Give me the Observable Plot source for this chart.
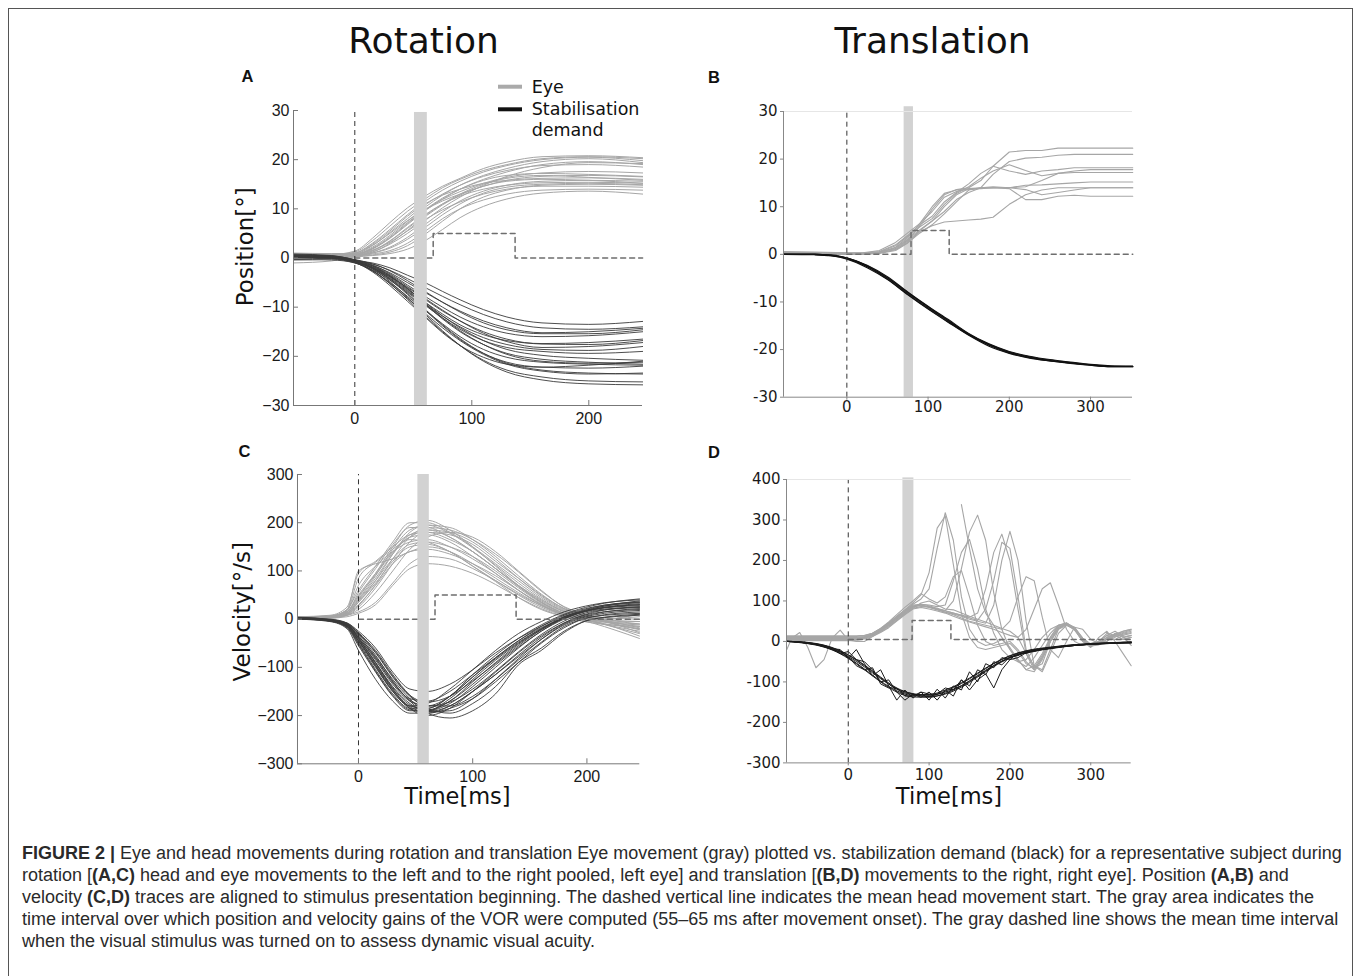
<!DOCTYPE html>
<html>
<head>
<meta charset="utf-8">
<script src="https://cdn.jsdelivr.net/npm/d3@7"></script>
<script src="https://cdn.jsdelivr.net/npm/@observablehq/plot@0.6"></script>
<style>
  body { margin: 0; background: #fff; }
  #page { position: relative; width: 1358px; height: 976px; overflow: hidden; background: #fff; }
  #frame { position: absolute; left: 8px; top: 8px; width: 1345px; height: 1000px; border: 1.5px solid #555; box-sizing: border-box; }
  #caption { position: absolute; left: 22px; top: 842px; font-family: "Liberation Sans", Arial, sans-serif; font-size: 18px; line-height: 22px; color: #2a2a2a; white-space: nowrap; }
  #overlay { position: absolute; left: 0; top: 0; pointer-events: none; }
</style>
</head>
<body>
<div id="page">
  <div id="frame"></div>
  <div id="panels"></div>
  <svg id="overlay" width="1358" height="976">
    <text x="423.5" y="53" font-family="DejaVu Sans" font-size="36" text-anchor="middle" fill="#111">Rotation</text>
    <text x="932.5" y="53" font-family="DejaVu Sans" font-size="36" text-anchor="middle" fill="#111">Translation</text>
    <text x="241.5" y="81.7" font-family="Liberation Sans" font-weight="bold" font-size="16.5" fill="#111">A</text>
    <text x="708" y="82.5" font-family="Liberation Sans" font-weight="bold" font-size="16.5" fill="#111">B</text>
    <text x="238.5" y="456.7" font-family="Liberation Sans" font-weight="bold" font-size="16.5" fill="#111">C</text>
    <text x="708" y="458" font-family="Liberation Sans" font-weight="bold" font-size="16.5" fill="#111">D</text>
    <text transform="translate(253,246.7) rotate(-90)" text-anchor="middle" font-family="DejaVu Sans" font-size="23" fill="#111">Position[°]</text>
    <text transform="translate(250,611.7) rotate(-90)" text-anchor="middle" font-family="DejaVu Sans" font-size="23" fill="#111">Velocity[°/s]</text>
    <text x="457.5" y="803.5" text-anchor="middle" font-family="DejaVu Sans" font-size="22.5" fill="#111">Time[ms]</text>
    <text x="949" y="803.5" text-anchor="middle" font-family="DejaVu Sans" font-size="22.5" fill="#111">Time[ms]</text>
    <line x1="498" x2="522" y1="86.7" y2="86.7" stroke="#aaa" stroke-width="4"/>
    <line x1="498" x2="522" y1="109.3" y2="109.3" stroke="#111" stroke-width="4"/>
    <text x="531.7" y="93.3" font-family="DejaVu Sans" font-size="17.5" fill="#111">Eye</text>
    <text x="531.7" y="115" font-family="DejaVu Sans" font-size="17.5" fill="#111">Stabilisation</text>
    <text x="531.7" y="136" font-family="DejaVu Sans" font-size="17.5" fill="#111">demand</text>
  </svg>
  <div id="caption">
    <div><b>FIGURE 2 |</b> Eye and head movements during rotation and translation Eye movement (gray) plotted vs. stabilization demand (black) for a representative subject during</div>
    <div>rotation [<b>(A,C)</b> head and eye movements to the left and to the right pooled, left eye] and translation [<b>(B,D)</b> movements to the right, right eye]. Position <b>(A,B)</b> and</div>
    <div>velocity <b>(C,D)</b> traces are aligned to stimulus presentation beginning. The dashed vertical line indicates the mean head movement start. The gray area indicates the</div>
    <div>time interval over which position and velocity gains of the VOR were computed (55–65 ms after movement onset). The gray dashed line shows the mean time interval</div>
    <div>when the visual stimulus was turned on to assess dynamic visual acuity.</div>
  </div>
</div>
<script>
// ---------------- DATA ----------------
// Panel A: rotation, position (deg)
const tA = [-52,-20,0,15,30,45,60,75,90,110,130,160,200,246];
const posRotEye = [
  [0.5,0.6,1.2,3.5,6.5,9.5,12.0,14.3,16.0,17.8,19.0,20.2,20.6,20.2],
  [0.3,0.5,1.0,3.0,5.8,8.8,11.5,13.8,15.6,17.5,18.8,20.0,20.5,19.8],
  [0.8,0.8,0.8,2.2,4.6,7.5,10.3,12.8,14.8,16.8,18.2,19.6,20.2,19.4],
  [0.0,0.3,0.6,1.8,4.0,6.8,9.6,12.0,14.0,16.0,17.5,19.0,19.6,19.0],
  [1.0,0.9,0.9,2.5,5.2,8.0,10.8,13.0,14.8,16.6,17.8,18.8,19.0,18.5],
  [0.5,0.5,0.7,2.0,4.3,7.2,9.8,11.9,13.5,15.2,16.4,17.3,17.6,17.3],
  [0.2,0.4,0.5,1.2,3.0,5.6,8.4,10.8,12.8,14.6,15.8,16.6,16.8,16.5],
  [0.6,0.7,1.0,2.8,5.5,8.5,11.0,12.8,14.0,15.2,15.8,16.2,16.3,16.0],
  [-0.5,-0.2,0.3,1.0,2.2,4.2,6.8,9.4,11.6,13.6,14.8,15.6,15.8,15.6],
  [0.4,0.5,0.6,1.5,3.5,6.2,8.8,11.0,12.6,14.0,14.8,15.3,15.4,15.2],
  [-1.0,-0.6,0.2,0.6,1.2,2.5,4.8,7.5,10.0,12.4,13.8,14.8,15.0,14.8],
  [0.7,0.6,0.8,1.6,3.2,5.5,7.8,9.8,11.4,13.0,14.0,14.6,14.6,14.4],
  [0.2,0.3,0.4,0.8,1.5,3.0,5.4,8.0,10.0,11.8,13.0,13.8,14.0,13.8],
  [0.0,0.2,0.3,0.5,0.9,1.8,3.5,5.8,8.2,10.5,12.0,13.2,13.6,13.0],
  [0.6,0.7,1.4,4.0,7.2,10.2,12.6,14.6,16.2,18.2,19.5,20.6,20.8,20.4],
  [0.1,0.3,0.6,1.4,3.4,6.0,8.6,11.0,13.0,15.0,16.2,16.8,16.4,15.8],
  [0.9,0.8,1.0,2.6,5.0,7.6,9.8,11.6,13.0,14.6,15.6,16.0,15.8,15.2],
  [-0.3,0.0,0.4,1.2,2.8,5.0,7.6,10.2,12.4,14.8,16.6,18.4,19.4,19.2],
  [0.4,0.5,0.7,1.9,4.1,7.0,9.8,12.2,14.0,15.8,16.8,17.2,17.0,16.6],
  [0.2,0.3,0.5,1.0,2.0,3.8,6.2,8.8,11.0,13.2,14.4,15.0,15.2,14.9]
];
const posRotDemand = [
  [0.5,0.3,-0.5,-1.0,-2.0,-3.5,-5.0,-6.8,-8.5,-10.5,-12.0,-13.2,-13.5,-12.9],
  [0.6,0.4,-0.3,-1.2,-2.5,-4.2,-6.0,-7.8,-9.5,-11.5,-13.0,-14.2,-14.5,-14.0],
  [0.3,0.2,-0.6,-1.5,-3.0,-5.0,-7.0,-9.0,-10.8,-12.8,-14.2,-15.2,-15.0,-14.3],
  [0.8,0.5,-0.4,-1.4,-3.2,-5.5,-7.8,-10.0,-12.0,-14.0,-15.3,-16.0,-15.8,-15.0],
  [0.2,0.0,-0.8,-2.0,-3.8,-6.0,-8.4,-10.8,-12.8,-15.0,-16.5,-17.5,-17.6,-16.8],
  [0.5,0.3,-0.5,-1.6,-3.4,-5.8,-8.2,-10.6,-12.8,-15.3,-17.0,-18.2,-18.0,-17.2],
  [0.4,0.2,-0.7,-2.2,-4.2,-6.8,-9.4,-11.8,-14.0,-16.2,-17.6,-18.6,-18.8,-18.0],
  [0.0,-0.2,-1.0,-2.4,-4.5,-7.0,-9.6,-12.2,-14.5,-16.8,-18.2,-19.0,-19.4,-19.0],
  [0.6,0.4,-0.6,-1.8,-3.6,-6.2,-9.0,-11.8,-14.2,-16.8,-18.6,-19.8,-20.4,-20.8],
  [0.3,0.1,-0.8,-2.0,-4.0,-6.6,-9.4,-12.4,-15.0,-17.6,-19.4,-20.6,-21.2,-21.6],
  [-0.3,-0.4,-1.0,-2.6,-5.0,-7.8,-10.6,-13.4,-16.0,-18.6,-20.2,-21.2,-21.6,-21.8],
  [0.4,0.2,-0.6,-2.0,-4.2,-7.2,-10.4,-13.6,-16.4,-19.4,-21.4,-22.8,-23.4,-23.6],
  [0.2,0.0,-0.9,-2.5,-5.2,-8.4,-11.8,-15.0,-17.8,-20.8,-22.8,-24.2,-25.0,-25.2],
  [0.5,0.3,-0.7,-2.2,-4.8,-8.0,-11.4,-14.8,-17.8,-21.0,-23.2,-24.8,-25.6,-25.8],
  [0.4,0.2,-0.6,-1.8,-3.8,-6.4,-9.0,-11.4,-13.6,-15.6,-16.8,-17.4,-17.2,-16.5],
  [0.6,0.4,-0.4,-1.6,-3.6,-6.2,-9.2,-12.2,-14.8,-17.6,-19.6,-21.0,-21.4,-21.2],
  [0.2,0.0,-0.8,-2.6,-5.2,-8.2,-11.2,-14.2,-16.8,-19.6,-21.6,-23.0,-23.6,-23.4],
  [0.5,0.3,-0.5,-1.2,-2.6,-4.6,-6.8,-9.0,-11.0,-13.2,-14.6,-15.4,-15.4,-14.6],
  [0.3,0.1,-0.7,-2.0,-4.4,-7.4,-10.6,-13.8,-16.6,-19.4,-21.2,-22.2,-22.4,-22.0],
  [0.1,-0.1,-0.9,-2.8,-5.6,-8.8,-12.0,-15.2,-17.8,-20.2,-21.6,-22.2,-21.8,-21.0]
];

// Panel B: translation, position (deg)
const tB = [-78,-40,0,20,40,60,75,90,105,120,135,150,165,180,200,220,240,260,280,300,325,352];
const posTransEye = [
  [0.5,0.5,0.3,0.3,0.5,1.2,3.0,6.0,9.5,12.5,13.6,14.0,15.5,18.5,21.5,21.8,21.8,22.3,22.3,22.3,22.3,22.3],
  [0.3,0.3,0.2,0.2,0.4,1.5,3.5,6.5,10.0,12.8,13.5,13.6,14.0,16.8,19.5,20.2,20.4,20.8,21.0,21.0,21.0,21.0],
  [0.0,0.0,0.0,0.2,0.6,2.0,4.0,6.2,8.0,11.0,13.0,14.8,17.0,18.5,17.5,16.8,17.5,17.8,18.2,18.2,18.2,18.2],
  [0.6,0.4,0.2,0.3,0.8,2.5,4.5,6.5,9.0,12.0,13.2,13.8,13.8,14.0,14.0,14.2,15.5,17.0,17.5,17.8,17.8,17.8],
  [0.2,0.2,0.1,0.2,0.5,1.8,3.8,5.8,7.5,10.5,12.8,14.2,16.0,17.5,18.8,17.6,16.5,17.0,17.2,17.2,17.2,17.2],
  [0.0,0.0,0.0,0.1,0.3,1.0,2.8,5.0,7.0,9.0,11.5,13.0,14.0,14.2,14.0,14.5,14.6,14.8,15.0,15.2,15.2,15.2],
  [0.4,0.3,0.2,0.2,0.4,1.4,3.2,5.2,7.0,10.0,12.5,13.8,14.0,14.0,14.0,13.6,12.5,13.0,13.5,14.0,14.0,14.0],
  [0.1,0.1,0.0,0.0,0.2,0.8,2.4,4.5,6.2,8.5,11.0,13.5,13.9,14.0,13.8,11.5,11.5,12.2,12.4,12.2,12.2,12.2],
  [0.0,0.0,0.0,0.1,0.3,1.0,2.5,4.8,6.0,6.8,7.0,7.2,7.4,7.8,10.5,12.5,13.5,14.0,14.0,14.0,14.0,14.0]
];
const tBd = [-78,-40,-20,0,25,50,75,100,125,150,175,200,225,250,275,300,325,352];
const posTransDemand = [
  [0,0,-0.2,-0.8,-2.5,-5.0,-8.2,-11.2,-14.0,-16.8,-19.0,-20.6,-21.6,-22.3,-22.8,-23.2,-23.5,-23.5],
  [0,0,-0.3,-1.0,-2.8,-5.3,-8.5,-11.5,-14.3,-17.0,-19.3,-20.8,-21.8,-22.4,-22.9,-23.3,-23.6,-23.6],
  [0,0,-0.1,-0.7,-2.3,-4.7,-7.9,-10.9,-13.7,-16.6,-18.8,-20.4,-21.4,-22.1,-22.6,-23.1,-23.4,-23.5],
  [0,-0.1,-0.3,-0.9,-2.6,-5.2,-8.4,-11.4,-14.2,-16.9,-19.1,-20.7,-21.7,-22.4,-22.8,-23.3,-23.6,-23.6],
  [0,0,-0.2,-0.8,-2.4,-4.9,-8.0,-11.0,-13.9,-16.7,-18.9,-20.5,-21.5,-22.2,-22.7,-23.2,-23.5,-23.5]
];

// Panel C: rotation, velocity (deg/s)
const tC = [-53,-25,-10,0,15,30,45,60,80,100,120,140,160,180,205,246];
const velRotEye = [
  [2,5,15,45,95,150,195,205,185,150,110,70,38,15,0,-15],
  [3,6,20,60,110,160,200,200,180,150,115,80,45,18,0,-10],
  [0,3,10,35,80,135,180,195,190,165,130,90,52,22,2,-20],
  [5,8,25,95,120,150,175,180,165,140,105,68,35,12,-5,-25],
  [2,4,12,40,85,135,170,175,160,130,95,60,30,10,-5,-30],
  [1,3,8,25,65,115,160,180,175,155,120,85,50,22,5,-10],
  [4,7,18,70,110,140,160,165,150,125,95,60,30,10,-3,-35],
  [0,2,8,20,55,100,145,170,180,170,140,100,60,25,5,0],
  [3,6,20,100,115,125,140,150,140,115,85,55,28,8,-8,-40],
  [2,5,15,50,95,140,165,160,140,110,80,50,25,8,-5,-20],
  [1,3,10,30,70,115,140,145,135,115,90,60,32,12,0,5],
  [3,5,12,35,75,120,150,155,140,110,78,45,20,5,-8,-15],
  [2,4,8,15,35,75,115,130,125,105,80,52,28,10,-2,10],
  [0,2,5,12,30,70,105,115,110,95,72,45,22,6,-6,-5],
  [1,4,14,55,105,155,190,190,170,140,105,70,40,16,2,-5],
  [2,5,18,85,118,145,170,185,180,160,125,85,48,20,4,-18],
  [0,2,9,28,72,125,170,190,185,165,135,98,58,26,6,-28],
  [3,6,16,48,92,138,175,185,170,140,105,68,36,12,-4,12],
  [1,3,11,38,80,125,155,160,150,130,100,65,34,12,-2,-12],
  [2,4,13,42,90,145,185,195,178,148,112,75,42,16,0,-22]
];
const velRotDemand = [
  [3,0,-8,-25,-60,-110,-145,-150,-135,-105,-70,-40,-15,5,20,30],
  [2,-2,-12,-35,-80,-130,-165,-170,-150,-115,-80,-45,-18,2,18,25],
  [0,-3,-15,-45,-95,-145,-180,-185,-160,-120,-80,-45,-15,8,25,35],
  [4,-1,-10,-40,-90,-140,-175,-190,-175,-140,-100,-60,-25,0,20,28],
  [2,-4,-18,-55,-110,-160,-190,-190,-165,-125,-85,-50,-20,5,22,38],
  [1,-2,-12,-40,-90,-145,-185,-200,-185,-150,-110,-70,-35,-8,12,20],
  [3,-3,-16,-50,-105,-155,-185,-185,-160,-115,-75,-40,-12,10,28,42],
  [0,-5,-20,-65,-125,-170,-195,-195,-180,-150,-115,-78,-42,-12,8,18],
  [2,-2,-10,-30,-70,-120,-160,-180,-180,-160,-125,-85,-48,-15,5,15],
  [1,-4,-15,-48,-100,-150,-180,-175,-145,-105,-65,-30,-5,15,30,40],
  [3,-1,-8,-28,-65,-115,-158,-185,-195,-175,-140,-90,-60,-25,0,10],
  [0,-3,-14,-45,-98,-150,-185,-195,-185,-165,-130,-90,-50,-18,5,12],
  [2,-3,-12,-38,-85,-135,-170,-180,-160,-120,-82,-48,-20,2,20,30],
  [1,-2,-11,-35,-78,-125,-165,-195,-205,-190,-155,-95,-65,-28,0,8],
  [2,-3,-13,-42,-92,-142,-178,-188,-170,-130,-90,-52,-22,2,22,34],
  [1,-2,-10,-32,-75,-128,-170,-192,-190,-165,-125,-82,-42,-10,10,22],
  [3,-4,-17,-52,-108,-158,-188,-190,-170,-135,-95,-58,-25,2,20,32],
  [0,-1,-9,-30,-68,-118,-158,-172,-160,-128,-92,-55,-22,4,24,36],
  [2,-3,-14,-44,-96,-148,-182,-192,-180,-150,-115,-75,-38,-8,14,26],
  [1,-2,-12,-38,-82,-132,-168,-180,-172,-145,-108,-68,-32,-4,16,24]
];

// Panel D: translation, velocity (deg/s)
const tD = [-76,-70,-60,-50,-40,-30,-20,-10,0,10,20,30,40,50,60,70,80,90,100,110,120,130,140,150,160,170,180,190,200,210,220,230,240,250,260,270,280,290,300,310,320,330,340,350];
const velTransEye = [
  [12,12,12,12,12,12,12,12,12,12,14,20,30,45,62,78,95,115,170,280,310,190,70,10,-15,-20,-15,-10,-5,-25,-55,-65,-35,5,35,42,30,5,-8,0,15,10,20,25],
  [5,5,5,5,5,5,5,5,5,6,10,16,28,42,58,75,92,105,130,230,318,250,110,30,0,-10,-5,5,-15,-45,-70,-75,-45,0,32,44,35,8,-10,-5,10,15,5,10],
  [null,null,null,null,null,null,null,null,null,null,null,null,null,null,null,null,null,null,null,null,null,null,338,230,130,70,40,10,-20,-45,-70,-60,-30,10,38,45,30,5,-10,-5,0,15,25,30],
  [8,8,8,8,8,8,8,8,8,8,10,18,30,44,60,75,88,90,85,80,76,100,180,270,312,250,120,30,-20,-50,-62,-40,-10,20,40,45,30,0,-12,-5,10,5,15,20],
  [10,10,10,10,10,10,10,10,10,10,12,18,28,40,55,70,85,92,90,86,90,150,220,252,180,80,20,-20,-40,-50,-45,-20,10,30,40,42,28,2,-10,-8,5,20,10,15],
  [3,3,3,3,3,3,3,3,3,4,8,15,26,40,56,72,86,88,86,80,75,70,65,60,70,130,220,265,200,80,-30,-70,-40,10,40,46,32,5,-10,-6,8,12,18,22],
  [6,6,6,6,6,6,6,6,6,7,10,17,28,42,58,74,86,90,84,78,72,68,62,55,50,45,90,200,272,200,50,-60,-70,-20,30,45,34,6,-12,-8,5,15,22,28],
  [14,14,14,14,14,14,14,14,14,14,15,20,32,46,62,78,90,92,88,82,76,70,64,58,52,80,150,245,230,110,-20,-65,-55,0,35,44,30,4,-8,-4,10,18,25,30],
  [4,4,4,4,4,4,4,4,4,5,8,14,24,36,52,68,82,86,85,80,72,66,58,50,45,40,35,30,50,110,160,150,60,-20,-40,0,35,30,5,-5,0,20,10,15],
  [2,2,2,2,2,2,2,2,2,3,6,12,22,34,50,66,80,84,80,75,70,62,55,48,42,36,30,22,15,10,30,80,130,145,90,30,0,-10,-5,0,20,15,5,10],
  [7,7,7,7,7,7,7,7,7,8,12,20,32,48,66,84,100,118,105,95,110,160,175,110,40,0,-10,-5,0,-20,-50,-70,-40,0,30,40,32,8,-6,0,15,25,12,-10],
  [-20,8,22,-15,-65,-45,8,28,3,0,0,12,25,38,52,68,82,95,100,90,80,78,70,62,55,48,40,32,25,10,-30,-60,-75,-30,20,40,30,0,-15,10,25,0,-30,-60]
];
const velTransDemandWiggly = [
  [0,0,-2,-4,-7,-12,-18,-20,-42,-20,-55,-85,-70,-110,-145,-120,-140,-125,-145,-118,-140,-110,-120,-75,-100,-55,-65,-40,-45,-28,-30,-22,-20,-16,-14,-12,-10,-8,-7,-6,-5,-4,-3,-2],
  [0,0,-1,-3,-6,-10,-16,-30,-25,-45,-50,-70,-100,-95,-125,-145,-130,-138,-125,-145,-120,-135,-95,-110,-70,-82,-50,-58,-38,-35,-25,-24,-18,-17,-13,-11,-9,-8,-6,-6,-4,-4,-2,-2],
  [0,-1,-2,-5,-8,-13,-20,-25,-38,-60,-70,-65,-105,-115,-115,-135,-135,-125,-130,-130,-115,-120,-95,-120,-95,-80,-115,-70,-45,-40,-28,-25,-20,-17,-14,-12,-10,-9,-7,-6,-5,-4,-3,-3]
];
const tDd = [-76,-60,-40,-20,0,20,40,60,80,100,120,140,160,180,200,220,250,280,300,325,350];
const velTransDemand = [
  [0,-2,-7,-18,-37,-63,-92,-117,-129,-133,-125,-109,-84,-59,-39,-26,-16,-9,-7,-5,-3],
  [0,-1,-5,-15,-33,-58,-88,-115,-130,-136,-130,-113,-88,-62,-41,-28,-18,-10,-6,-4,-4],
  [1,-2,-8,-20,-40,-68,-98,-122,-134,-135,-123,-104,-80,-55,-36,-24,-15,-8,-6,-4,-2],
  [0,-3,-9,-21,-42,-70,-100,-125,-137,-138,-128,-110,-86,-60,-40,-27,-17,-10,-7,-5,-3],
  [0,-1,-6,-16,-34,-60,-90,-118,-131,-131,-120,-102,-78,-54,-35,-23,-14,-8,-5,-3,-1]
];

// Stimulus-on (visual acuity) intervals, step lines
const stimA_t = [0, 67, 137, 246], stimA_v = [0, 5, 0, 0];
const stimB_t = [0, 79, 126, 352], stimB_v = [0, 5, 0, 0];
const stimC_t = [0, 67, 138, 246], stimC_v = [0, 50, 0, 0];
const stimD_t = [0, 79, 127, 350], stimD_v = [5, 52, 5, 5];

// Gain-computation windows (ms) and their vertical extent
const winA = [51, 62], winAy = [-30, 29.6];
const winB = [70.5, 82], winBy = [-30, 31];
const winC = [52, 62], winCy = [-300, 300];
const winD = [67.6, 81.2], winDy = [-300, 404];

// Head movement onset
const onset = 0;

// Axes
const xDomA = [-52.4, 245.9], yDomA = [-30, 30], xTicksA = [0, 100, 200], yTicksA = [-30,-20,-10,0,10,20,30];
const xDomB = [-78, 351.7], yDomB = [-30, 30], xTicksB = [0, 100, 200, 300], yTicksB = [-30,-20,-10,0,10,20,30];
const xDomC = [-53.4, 246.3], yDomC = [-300, 300], xTicksC = [0, 100, 200], yTicksC = [-300,-200,-100,0,100,200,300];
const xDomD = [-76.4, 350], yDomD = [-300, 400], xTicksD = [0, 100, 200, 300], yTicksD = [-300,-200,-100,0,100,200,300,400];

// ---------------- HELPERS ----------------
function tidy(times, series, tag) {
  const out = [];
  series.forEach((vals, i) => vals.forEach((v, j) => {
    if (v !== null && v !== undefined) out.push({t: times[j], v, id: tag + i});
  }));
  return out;
}
function stepData(ts, vs) { return ts.map((t, i) => ({t, v: vs[i]})); }
const hyphenFmt = d => (d < 0 ? "-" + (-d) : String(d));

function panel(cfg) {
  const {fx0, fx1, fy0, fy1, xDomain, yDomain, xTicks, yTicks, marks, inward, font, fontSize, fmt,
         axisColor, xPad, yPad, topLine} = cfg;
  const mL = 70, mR = 20, mT = 20, mB = 40;
  const fw = fx1 - fx0, fh = fy1 - fy0;
  const chart = Plot.plot({
    width: fw + mL + mR, height: fh + mT + mB,
    marginLeft: mL, marginRight: mR, marginTop: mT, marginBottom: mB,
    x: {domain: xDomain}, y: {domain: yDomain},
    style: {background: "transparent", fontFamily: font, fontSize: fontSize + "px", color: "#1a1a1a", overflow: "visible"},
    marks: [
      ...marks,
      topLine ? Plot.ruleY([yDomain[1]], {stroke: "#e6e6e6"}) : null,
      Plot.ruleX([xDomain[0]], {stroke: axisColor}),
      Plot.ruleY([yDomain[0]], {stroke: axisColor}),
      Plot.axisX(xTicks, {tickSize: inward ? 0 : 3, tickPadding: xPad, tickFormat: fmt, stroke: axisColor, fontSize}),
      Plot.axisY(yTicks, {tickSize: inward ? 0 : 3, tickPadding: yPad, tickFormat: fmt, stroke: axisColor, fontSize}),
      inward ? Plot.tickY(yTicks, {y: d => d, insetRight: fw - 5, stroke: axisColor}) : null,
      inward ? Plot.tickX(xTicks, {x: d => d, insetTop: fh - 5, stroke: axisColor}) : null
    ]
  });
  chart.style.position = "absolute";
  chart.style.left = (fx0 - mL) + "px";
  chart.style.top = (fy0 - mT) + "px";
  document.getElementById("panels").appendChild(chart);
}

const EYE = "#a6a6a6";
const dashStim = {x: "t", y: "v", curve: "step-after", stroke: "#6e6e6e", strokeWidth: 1.5, strokeDasharray: "5,4"};
function onsetRule(yExt) { return Plot.ruleX([onset], {y1: yExt[0], y2: yExt[1], stroke: "#333", strokeWidth: 1, strokeDasharray: "5,4"}); }
function winRect(w, wy, op) { return Plot.rect([{x1: w[0], x2: w[1], y1: wy[0], y2: wy[1]}], {x1: "x1", x2: "x2", y1: "y1", y2: "y2", fill: "#d2d2d2", fillOpacity: op}); }

// ---------------- PANELS ----------------
panel({
  fx0: 293, fx1: 642, fy0: 110, fy1: 405, xDomain: xDomA, yDomain: yDomA, xTicks: xTicksA, yTicks: yTicksA,
  inward: true, font: "Liberation Sans", fontSize: 16, fmt: undefined, axisColor: "#777", xPad: 7, yPad: 4,
  marks: [
    Plot.line(tidy(tA, posRotEye, "e"), {x: "t", y: "v", z: "id", stroke: EYE, strokeWidth: 1, curve: "monotone-x"}),
    Plot.line(tidy(tA, posRotDemand, "d"), {x: "t", y: "v", z: "id", stroke: "#3a3a3a", strokeWidth: 0.9, curve: "monotone-x"}),
    Plot.line(stepData(stimA_t, stimA_v), dashStim),
    onsetRule(yDomA),
    winRect(winA, winAy, 1)
  ]
});
panel({
  fx0: 783.3, fx1: 1132.3, fy0: 111, fy1: 396.7, xDomain: xDomB, yDomain: yDomB, xTicks: xTicksB, yTicks: yTicksB,
  inward: false, font: "DejaVu Sans", fontSize: 15, fmt: hyphenFmt, axisColor: "#888", xPad: 1, yPad: 3, topLine: true,
  marks: [
    winRect(winB, winBy, 1),
    Plot.line(tidy(tB, posTransEye, "e"), {x: "t", y: "v", z: "id", stroke: EYE, strokeWidth: 1.1}),
    Plot.line(tidy(tBd, posTransDemand, "d"), {x: "t", y: "v", z: "id", stroke: "#111", strokeWidth: 1.1, curve: "monotone-x"}),
    Plot.line(stepData(stimB_t, stimB_v), dashStim),
    onsetRule(yDomB)
  ]
});
panel({
  fx0: 296.7, fx1: 639, fy0: 474, fy1: 763.3, xDomain: xDomC, yDomain: yDomC, xTicks: xTicksC, yTicks: yTicksC,
  inward: true, font: "Liberation Sans", fontSize: 16, fmt: undefined, axisColor: "#777", xPad: 7, yPad: 4,
  marks: [
    Plot.line(tidy(tC, velRotEye, "e"), {x: "t", y: "v", z: "id", stroke: EYE, strokeWidth: 1, curve: "monotone-x"}),
    Plot.line(tidy(tC, velRotDemand, "d"), {x: "t", y: "v", z: "id", stroke: "#3a3a3a", strokeWidth: 0.9, curve: "monotone-x"}),
    Plot.line(stepData(stimC_t, stimC_v), dashStim),
    onsetRule(yDomC),
    winRect(winC, winCy, 1)
  ]
});
panel({
  fx0: 786, fx1: 1130.7, fy0: 479.3, fy1: 762.7, xDomain: xDomD, yDomain: yDomD, xTicks: xTicksD, yTicks: yTicksD,
  inward: false, font: "DejaVu Sans", fontSize: 15, fmt: hyphenFmt, axisColor: "#888", xPad: 3, yPad: 3, topLine: true,
  marks: [
    winRect(winD, winDy, 1),
    Plot.line(tidy(tD, velTransEye, "e"), {x: "t", y: "v", z: "id", stroke: EYE, strokeWidth: 1.1}),
    Plot.line(tidy(tDd, velTransDemand, "d"), {x: "t", y: "v", z: "id", stroke: "#1a1a1a", strokeWidth: 1, curve: "monotone-x"}),
    Plot.line(tidy(tD, velTransDemandWiggly, "w"), {x: "t", y: "v", z: "id", stroke: "#1a1a1a", strokeWidth: 1}),
    Plot.line(stepData(stimD_t, stimD_v), dashStim),
    onsetRule(yDomD)
  ]
});
</script>
</body>
</html>
